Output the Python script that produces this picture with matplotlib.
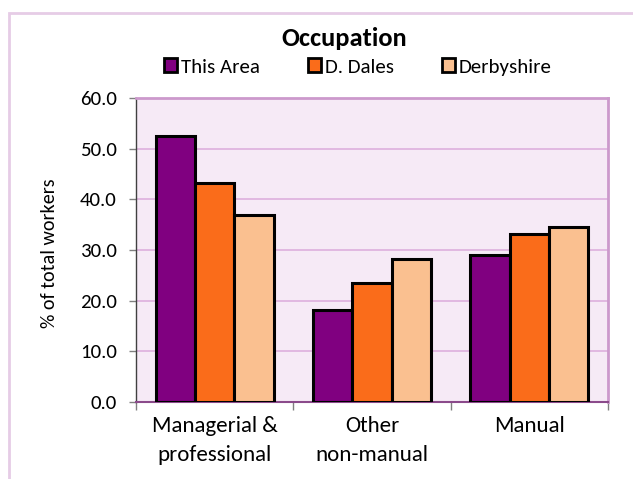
import matplotlib
matplotlib.use("Agg")
import matplotlib.pyplot as plt
from matplotlib.patches import Rectangle
from matplotlib.ticker import FixedLocator, NullFormatter
import numpy as np

categories = ["Managerial &\nprofessional", "Other\nnon-manual", "Manual"]
series_names = ["This Area", "D. Dales", "Derbyshire"]
this_area = [52.5, 18.2, 29.1]
d_dales = [43.2, 23.4, 33.2]
derbyshire = [37.0, 28.3, 34.6]
colors = ["#800080", "#FA6C1A", "#FAC090"]
yticks = [0, 10, 20, 30, 40, 50, 60]

plt.rcParams['font.family'] = ['Carlito', 'DejaVu Sans']

W, H = 633, 479
fig = plt.figure(figsize=(W / 100, H / 100), dpi=100)
fig.patch.set_facecolor("white")

# outer chart border
fig.patches.append(Rectangle((9 / W, -0.1), 1.2, 1 - 13 / H + 0.1,
                             transform=fig.transFigure, fill=False,
                             edgecolor="#E6CCE6", linewidth=2, zorder=0))

ax = fig.add_axes([136 / W, (H - 402) / H, (608 - 136) / W, (402 - 98) / H])
ax.set_facecolor("#F6EAF6")

x = np.arange(len(categories))
width = 0.25
for i, (vals, name) in enumerate(zip([this_area, d_dales, derbyshire], series_names)):
    ax.bar(x + (i - 1) * width, vals, width, color=colors[i], edgecolor="black",
           linewidth=2.2, label=name, zorder=3)

ax.set_xlim(-0.5, len(categories) - 0.5)
ax.set_ylim(0, 60)
ax.set_yticks(yticks)
ax.set_yticklabels([f"{v:.1f}" for v in yticks], fontsize=15)
ax.yaxis.grid(True, color="#DDB0DD", linewidth=1.2, zorder=0)
ax.set_axisbelow(True)

ax.set_xticks(x)
ax.set_xticklabels(categories, fontsize=16.5, linespacing=1.6)
ax.tick_params(axis="x", which="major", length=0, pad=10)
ax.xaxis.set_minor_locator(FixedLocator(np.arange(-0.5, len(categories), 1.0)))
ax.xaxis.set_minor_formatter(NullFormatter())
ax.tick_params(axis="x", which="minor", length=6, color="#808080", width=1)
ax.tick_params(axis="y", length=5, color="#808080", width=1, pad=9)

for s in ["top", "right"]:
    ax.spines[s].set_color("#CC99CC")
    ax.spines[s].set_linewidth(2)
ax.spines["left"].set_color("#404040")
ax.spines["bottom"].set_color("#8B4A8B")
ax.spines["left"].set_linewidth(1)
ax.spines["bottom"].set_linewidth(1.5)

ax.set_ylabel("% of total workers", fontsize=14.5, va="center")
ax.yaxis.set_label_coords((50 - 136) / 472, 0.49)

fig.text(344 / W, 1 - 38 / H, "Occupation", ha="center", va="center",
         fontsize=19, fontweight="bold")

leg = fig.legend(loc="center", bbox_to_anchor=(358 / W, 1 - 67 / H), ncol=3,
                 frameon=False, fontsize=15, handlelength=0.62, handleheight=0.62,
                 handletextpad=0.2, columnspacing=2.3, borderpad=0)
for h in leg.legend_handles:
    h.set_linewidth(2)

fig.savefig("out.png", dpi=100)
